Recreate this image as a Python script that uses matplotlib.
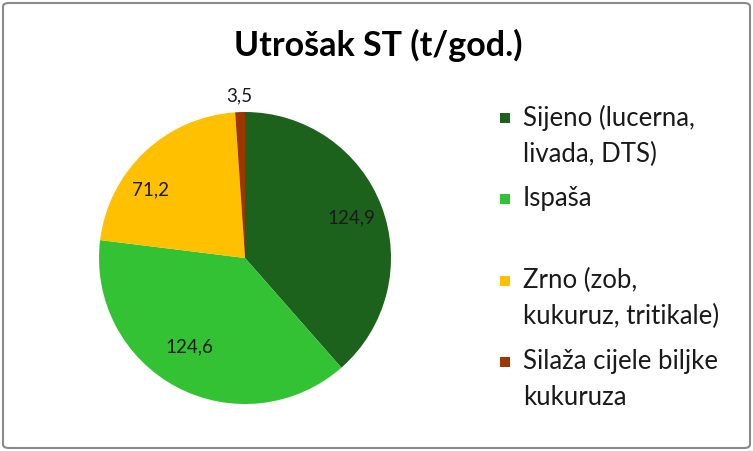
import matplotlib as mpl
mpl.use("Agg")
import numpy as np
import matplotlib.pyplot as plt
from matplotlib.patches import FancyBboxPatch, Rectangle

# data
categories = ["Sijeno (lucerna,\nlivada, DTS)", "Ispaša", "Zrno (zob,\nkukuruz, tritikale)",
              "Silaža cijele biljke\nkukuruza"]
values = [124.9, 124.6, 71.2, 3.5]
value_labels = ["124,9", "124,6", "71,2", "3,5"]
colors = ["#1C621C", "#33C233", "#FFC000", "#9E3600"]

plt.rcParams["font.family"] = ["Lato", "DejaVu Sans"]

W, H = 753, 451
fig = plt.figure(figsize=(W / 100, H / 100), dpi=100)

# outer frame
fig.patches.append(FancyBboxPatch((3 / W, 3 / H), 1 - 6 / W, 1 - 6 / H,
                                  boxstyle="round,pad=0,rounding_size=0.008",
                                  transform=fig.transFigure, fill=False,
                                  edgecolor="#8A8A8A", linewidth=1.5))

fig.text(378 / W, 1 - 45 / H, "Utrošak ST (t/god.)", ha="center", va="center",
         fontsize=24.5, fontweight="bold")

cx, cy, r = 245, 258, 146
ax = fig.add_axes([(cx - r) / W, (H - cy - r) / H, 2 * r / W, 2 * r / H])
wedges, _ = ax.pie(values, colors=colors, startangle=90, counterclock=False,
                   wedgeprops=dict(linewidth=0))
ax.set_xlim(-1, 1)
ax.set_ylim(-1, 1)
ax.set_aspect("equal")

dists = [0.78, 0.72, 0.80, 1.11]
offsets = [0, -4, 11, 0]
for w, lab, d, off in zip(wedges, value_labels, dists, offsets):
    ang = np.deg2rad((w.theta1 + w.theta2) / 2 + off)
    ax.text(d * np.cos(ang), d * np.sin(ang), lab, ha="center", va="center",
            fontsize=13.5, color="#1a1a1a", clip_on=False)

# legend, drawn by hand to mimic the spreadsheet layout
y0, slot, sq = 118, 81.3, 10
for i, (lab, c) in enumerate(zip(categories, colors)):
    y = y0 + i * slot
    fig.patches.append(Rectangle((500 / W, (H - y - sq / 2) / H), sq / W, sq / H,
                                 transform=fig.transFigure, facecolor=c,
                                 edgecolor="none"))
    fig.text(523 / W, (H - y + 13) / H, lab, ha="left", va="top",
             fontsize=18.5, linespacing=1.55, color="#1a1a1a")

fig.savefig("out.png", dpi=100)
